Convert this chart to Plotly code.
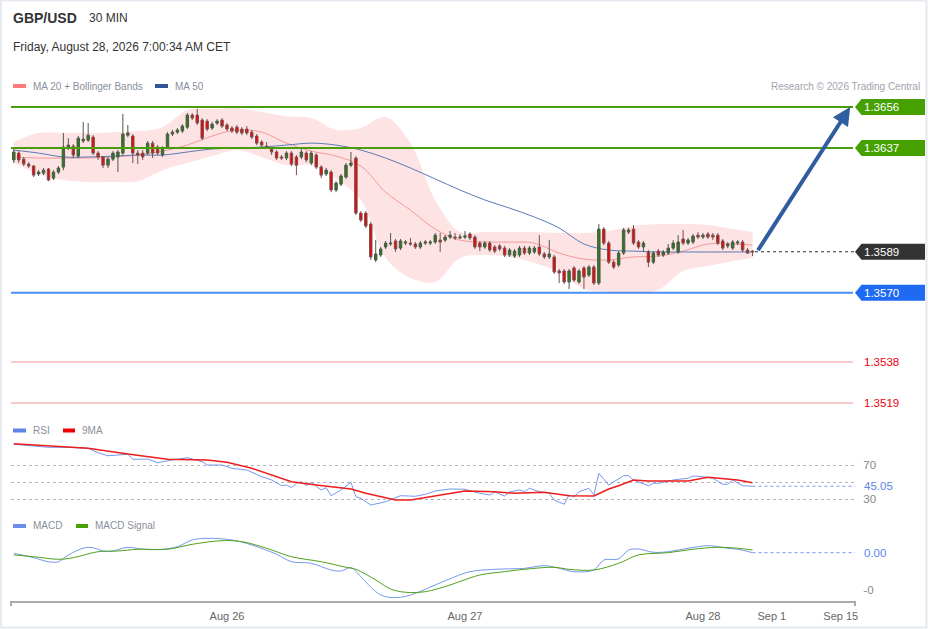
import plotly.graph_objects as go

# GBP/USD 30 min candles
open_ = [
    1.36315, 1.36347, 1.36319, 1.36296, 1.36287, 1.36250, 1.36254, 1.36273, 1.36231, 1.36259,
    1.36282, 1.36375, 1.36379, 1.36333, 1.36403, 1.36407, 1.36421, 1.36347, 1.36329, 1.36291,
    1.36319, 1.36329, 1.36347, 1.36430, 1.36426, 1.36347, 1.36347, 1.36347, 1.36393, 1.36375,
    1.36338, 1.36375, 1.36435, 1.36444, 1.36449, 1.36467, 1.36523, 1.36523, 1.36500, 1.36495,
    1.36463, 1.36486, 1.36500, 1.36477, 1.36463, 1.36467, 1.36458, 1.36458, 1.36444, 1.36426,
    1.36398, 1.36379, 1.36366, 1.36352, 1.36329, 1.36324, 1.36347, 1.36329, 1.36329, 1.36347,
    1.36301, 1.36338, 1.36282, 1.36250, 1.36259, 1.36176, 1.36203, 1.36236, 1.36291, 1.36324,
    1.36069, 1.36069, 1.36018, 1.35852, 1.35875, 1.35912, 1.35926, 1.35940, 1.35907, 1.35930,
    1.35930, 1.35926, 1.35912, 1.35930, 1.35930, 1.35935, 1.35944, 1.35944, 1.35958, 1.35958,
    1.35954, 1.35958, 1.35972, 1.35958, 1.35930, 1.35912, 1.35930, 1.35912, 1.35917, 1.35907,
    1.35875, 1.35870, 1.35875, 1.35907, 1.35884, 1.35889, 1.35912, 1.35880, 1.35866, 1.35866,
    1.35801, 1.35801, 1.35750, 1.35815, 1.35750, 1.35815, 1.35782, 1.35819, 1.35745, 1.35995,
    1.35930, 1.35842, 1.35829, 1.35884, 1.35981, 1.35995, 1.35935, 1.35912, 1.35889, 1.35842,
    1.35893, 1.35875, 1.35884, 1.35907, 1.35889, 1.35949, 1.35930, 1.35935, 1.35967, 1.35958,
    1.35972, 1.35967, 1.35967, 1.35940, 1.35917, 1.35907, 1.35930, 1.35935, 1.35898, 1.35893,
]
high = [
    1.36366, 1.36356, 1.36329, 1.36305, 1.36291, 1.36268, 1.36278, 1.36278, 1.36268, 1.36287,
    1.36440, 1.36416, 1.36389, 1.36426, 1.36491, 1.36486, 1.36430, 1.36356, 1.36333, 1.36329,
    1.36356, 1.36361, 1.36528, 1.36477, 1.36435, 1.36361, 1.36361, 1.36403, 1.36403, 1.36384,
    1.36379, 1.36444, 1.36454, 1.36463, 1.36481, 1.36532, 1.36532, 1.36551, 1.36509, 1.36504,
    1.36491, 1.36504, 1.36509, 1.36486, 1.36472, 1.36477, 1.36467, 1.36472, 1.36454, 1.36435,
    1.36407, 1.36398, 1.36375, 1.36361, 1.36338, 1.36356, 1.36356, 1.36338, 1.36370, 1.36356,
    1.36356, 1.36347, 1.36291, 1.36278, 1.36268, 1.36217, 1.36250, 1.36301, 1.36352, 1.36333,
    1.36078, 1.36078, 1.36028, 1.35944, 1.35912, 1.35940, 1.35977, 1.35949, 1.35949, 1.35944,
    1.35954, 1.35935, 1.35940, 1.35944, 1.35944, 1.35977, 1.35977, 1.35967, 1.35986, 1.35977,
    1.35972, 1.35986, 1.35981, 1.35967, 1.35940, 1.35940, 1.35940, 1.35921, 1.35926, 1.35917,
    1.35907, 1.35903, 1.35917, 1.35917, 1.35917, 1.35917, 1.35967, 1.35889, 1.35944, 1.35875,
    1.35810, 1.35810, 1.35810, 1.35824, 1.35810, 1.35824, 1.35829, 1.35829, 1.36018, 1.36004,
    1.35940, 1.35852, 1.35893, 1.36000, 1.36000, 1.36014, 1.35944, 1.35940, 1.35898, 1.35893,
    1.35903, 1.35898, 1.35926, 1.35944, 1.35967, 1.35991, 1.35954, 1.35972, 1.35981, 1.35977,
    1.35981, 1.35977, 1.35977, 1.35949, 1.35935, 1.35944, 1.35944, 1.35944, 1.35907, 1.35898,
]
low = [
    1.36301, 1.36301, 1.36287, 1.36278, 1.36236, 1.36241, 1.36245, 1.36217, 1.36222, 1.36250,
    1.36268, 1.36361, 1.36324, 1.36324, 1.36393, 1.36398, 1.36338, 1.36315, 1.36278, 1.36278,
    1.36310, 1.36259, 1.36338, 1.36421, 1.36301, 1.36296, 1.36315, 1.36338, 1.36324, 1.36338,
    1.36329, 1.36366, 1.36426, 1.36435, 1.36440, 1.36458, 1.36500, 1.36477, 1.36407, 1.36449,
    1.36454, 1.36477, 1.36463, 1.36449, 1.36440, 1.36435, 1.36430, 1.36430, 1.36412, 1.36384,
    1.36375, 1.36366, 1.36338, 1.36315, 1.36315, 1.36315, 1.36287, 1.36245, 1.36319, 1.36305,
    1.36291, 1.36273, 1.36231, 1.36241, 1.36166, 1.36166, 1.36194, 1.36227, 1.36282, 1.36060,
    1.36028, 1.36000, 1.35852, 1.35842, 1.35866, 1.35903, 1.35917, 1.35889, 1.35898, 1.35921,
    1.35917, 1.35903, 1.35903, 1.35921, 1.35921, 1.35926, 1.35889, 1.35935, 1.35949, 1.35944,
    1.35949, 1.35949, 1.35944, 1.35903, 1.35893, 1.35903, 1.35889, 1.35884, 1.35893, 1.35866,
    1.35866, 1.35861, 1.35866, 1.35875, 1.35875, 1.35880, 1.35870, 1.35856, 1.35856, 1.35787,
    1.35745, 1.35741, 1.35717, 1.35750, 1.35741, 1.35717, 1.35773, 1.35736, 1.35736, 1.35921,
    1.35833, 1.35810, 1.35819, 1.35875, 1.35972, 1.35921, 1.35903, 1.35889, 1.35819, 1.35833,
    1.35866, 1.35866, 1.35875, 1.35898, 1.35880, 1.35921, 1.35921, 1.35926, 1.35949, 1.35949,
    1.35949, 1.35944, 1.35921, 1.35898, 1.35907, 1.35898, 1.35921, 1.35889, 1.35880, 1.35870,
]
close = [
    1.36352, 1.36315, 1.36296, 1.36287, 1.36245, 1.36259, 1.36268, 1.36222, 1.36259, 1.36278,
    1.36375, 1.36384, 1.36338, 1.36416, 1.36412, 1.36430, 1.36347, 1.36329, 1.36291, 1.36319,
    1.36347, 1.36352, 1.36435, 1.36440, 1.36347, 1.36338, 1.36329, 1.36393, 1.36347, 1.36347,
    1.36370, 1.36435, 1.36444, 1.36454, 1.36472, 1.36523, 1.36509, 1.36486, 1.36416, 1.36458,
    1.36481, 1.36495, 1.36472, 1.36458, 1.36449, 1.36444, 1.36440, 1.36440, 1.36421, 1.36393,
    1.36384, 1.36375, 1.36352, 1.36324, 1.36324, 1.36347, 1.36296, 1.36291, 1.36352, 1.36315,
    1.36347, 1.36282, 1.36245, 1.36268, 1.36176, 1.36208, 1.36241, 1.36291, 1.36301, 1.36069,
    1.36037, 1.36009, 1.35866, 1.35880, 1.35903, 1.35930, 1.35930, 1.35903, 1.35940, 1.35935,
    1.35926, 1.35912, 1.35930, 1.35935, 1.35935, 1.35967, 1.35935, 1.35958, 1.35967, 1.35954,
    1.35958, 1.35963, 1.35954, 1.35912, 1.35912, 1.35930, 1.35898, 1.35893, 1.35903, 1.35875,
    1.35898, 1.35893, 1.35907, 1.35884, 1.35907, 1.35907, 1.35880, 1.35866, 1.35880, 1.35796,
    1.35792, 1.35750, 1.35801, 1.35759, 1.35801, 1.35773, 1.35819, 1.35745, 1.35995, 1.35930,
    1.35842, 1.35819, 1.35884, 1.35991, 1.35991, 1.35930, 1.35912, 1.35930, 1.35842, 1.35884,
    1.35875, 1.35889, 1.35907, 1.35930, 1.35935, 1.35930, 1.35944, 1.35963, 1.35958, 1.35967,
    1.35958, 1.35958, 1.35930, 1.35907, 1.35926, 1.35935, 1.35935, 1.35898, 1.35884, 1.35890,
]
bar_index = list(range(len(close)))

# moving averages / bollinger bands, sampled every 5 bars
band_idx = [0, 5, 10, 15, 20, 25, 30, 35, 40, 45, 50, 55, 60, 65, 70, 75,
            80, 85, 90, 95, 100, 105, 110, 115, 120, 125, 130, 135, 140, 145, 149]
ma20 = [1.36329, 1.36324, 1.36324, 1.36324, 1.36329, 1.36338, 1.36356, 1.36384, 1.36426, 1.36454,
        1.36444, 1.36393, 1.36356, 1.36333, 1.36287, 1.36166, 1.36083, 1.35995, 1.35944, 1.35935,
        1.35935, 1.35930, 1.35884, 1.35856, 1.35852, 1.35866, 1.35870, 1.35893, 1.35926, 1.35926, 1.35921]
bb_upper = [1.36398, 1.36440, 1.36440, 1.36440, 1.36444, 1.36449, 1.36467, 1.36546, 1.36551, 1.36555,
            1.36537, 1.36518, 1.36509, 1.36454, 1.36463, 1.36514, 1.36393, 1.36130, 1.35981, 1.35981,
            1.35981, 1.35981, 1.35977, 1.35977, 1.35986, 1.36009, 1.36018, 1.36018, 1.36014, 1.35995, 1.35981]
bb_lower = [1.36301, 1.36250, 1.36222, 1.36213, 1.36213, 1.36217, 1.36268, 1.36301, 1.36333, 1.36361,
            1.36329, 1.36291, 1.36291, 1.36227, 1.36130, 1.35861, 1.35768, 1.35750, 1.35861, 1.35875,
            1.35866, 1.35838, 1.35796, 1.35717, 1.35704, 1.35699, 1.35713, 1.35801, 1.35824, 1.35847, 1.35861]
ma50 = [1.36361, 1.36347, 1.36329, 1.36329, 1.36333, 1.36338, 1.36338, 1.36352, 1.36366, 1.36370,
        1.36375, 1.36384, 1.36393, 1.36384, 1.36361, 1.36324, 1.36278, 1.36227, 1.36176, 1.36130,
        1.36092, 1.36051, 1.36000, 1.35926, 1.35898, 1.35893, 1.35889, 1.35889, 1.35889, 1.35889, 1.35889]

# RSI and its 9 period average
rsi_idx = [0, 4, 7, 11, 15, 17, 19, 23, 24, 27, 29, 32, 35, 38, 39, 42, 44, 47, 50, 52,
           54, 55, 56, 57, 58, 59, 60, 62, 63, 64, 66, 68, 69, 70, 72, 75, 78, 81, 83, 85,
           88, 91, 94, 96, 97, 99, 100, 102, 103, 104, 106, 108, 109, 111, 112, 113, 114, 116, 117, 118,
           120, 123, 124, 125, 128, 129, 130, 133, 136, 137, 139, 141, 143, 144, 145, 147, 149]
rsi_val = [94.4, 92.7, 90.8, 90.8, 89.6, 84.5, 80.9, 82.6, 76.7, 77.0, 72.7, 75.9, 78.6, 73.9, 70.0, 70.0, 66.1, 64.1, 56.2, 52.4,
           45.6, 46.5, 43.3, 48.5, 50.4, 45.6, 49.6, 40.6, 43.3, 33.9, 40.6, 49.6, 32.7, 30.8, 22.9, 26.8, 33.9, 33.2, 35.5, 39.4,
           41.8, 41.4, 36.7, 34.7, 38.2, 33.5, 38.2, 40.6, 38.6, 42.6, 38.6, 36.7, 28.8, 23.8, 34.7, 32.4, 38.6, 42.6, 34.7, 60.2,
           46.5, 57.4, 57.4, 52.4, 45.6, 48.5, 48.5, 52.4, 54.4, 57.1, 56.2, 54.4, 47.3, 47.3, 52.4, 45.6, 45.05]
rsi_ma_idx = [0, 15, 23, 31, 39, 43, 48, 54, 56, 61, 68, 71, 77, 80, 85, 91, 97, 101, 107, 112,
              117, 120, 122, 125, 128, 136, 140, 146, 149]
rsi_ma_val = [95.1, 89.6, 82.9, 76.7, 75.9, 73.2, 66.1, 54.4, 50.4, 46.5, 41.8, 36.7, 28.8, 28.8, 33.5, 39.4, 38.6, 36.7, 37.9, 33.9,
              33.5, 41.8, 45.6, 52.4, 51.2, 51.2, 55.5, 52.4, 49.2]

# MACD and signal
macd_idx = [0, 4, 7, 9, 11, 15, 19, 23, 26, 30, 33, 36, 39, 44, 48, 53, 56, 60, 64, 66,
            68, 70, 73, 75, 78, 81, 85, 89, 92, 97, 103, 107, 110, 113, 117, 119, 122, 124, 126, 129,
            132, 136, 140, 142, 144, 146, 149]
macd_val = [-1.7e-5, -7.5e-5, -12.8e-5, -12.8e-5, -3.9e-5, 6.2e-5, 0.4e-5, 6.2e-5, 3.6e-5, 3.6e-5,
            7.0e-5, 15.8e-5, 18.0e-5, 15.8e-5, 9.2e-5, -3.0e-5, -12.8e-5, -14.9e-5, -23.7e-5, -25.0e-5,
            -20.7e-5, -32.5e-5, -52.2e-5, -58.8e-5, -59.6e-5, -54.4e-5, -43.4e-5, -32.5e-5, -25.9e-5, -22.8e-5,
            -21.5e-5, -18.0e-5, -21.5e-5, -25.9e-5, -23.7e-5, -10.5e-5, -9.2e-5, 2.6e-5, 3.9e-5, -0.4e-5,
            0.4e-5, 4.9e-5, 8.3e-5, 7.0e-5, 4.9e-5, 3.6e-5, -0.9e-5]
signal_idx = [0, 4, 9, 12, 17, 21, 25, 31, 36, 42, 46, 51, 56, 62, 67, 69, 73, 76, 79, 83,
              88, 90, 94, 99, 103, 109, 112, 117, 122, 126, 132, 137, 142, 146, 149]
signal_val = [-3.9e-5, -6.2e-5, -9.6e-5, -7.5e-5, 0.4e-5, 1.3e-5, 3.6e-5, 3.6e-5, 10.1e-5, 14.9e-5,
              13.6e-5, 4.9e-5, -6.2e-5, -12.8e-5, -20.1e-5, -22.8e-5, -36.8e-5, -48.7e-5, -53.0e-5, -52.2e-5,
              -43.4e-5, -38.8e-5, -30.3e-5, -25.9e-5, -22.8e-5, -20.1e-5, -22.8e-5, -23.7e-5, -14.9e-5, -3.9e-5,
              -0.9e-5, 3.6e-5, 6.2e-5, 4.9e-5, 2.6e-5]

last_price = 1.3589
target = 1.3656
resistances = [1.3656, 1.3637]
pivot = 1.3570
supports = [1.3538, 1.3519]
rsi_last = 45.05

tick_pos = [43, 91, 139, 152.9, 166.8]
tick_text = ["Aug 26", "Aug 27", "Aug 28", "Sep 1", "Sep 15"]

X_RANGE = [-0.565, 169.67]
PRICE_RANGE = [1.35134, 1.36616]
FONT = "Liberation Sans, Arial, sans-serif"
GREEN = "#4a9e0c"
BLUE = "#2f5d9f"


def px_x(px):
    return (px - 11) / 844


def px_y(py):
    return (601 - py) / 506


fig = go.Figure()

# bollinger band + moving averages (drawn under the candles)
fig.add_trace(go.Scatter(x=band_idx, y=bb_upper, mode="lines", line=dict(width=0, shape="spline"),
                         hoverinfo="skip", showlegend=False))
fig.add_trace(go.Scatter(x=band_idx, y=bb_lower, mode="lines", line=dict(width=0, shape="spline"),
                         fill="tonexty", fillcolor="#fde3e3", hoverinfo="skip", showlegend=False))
fig.add_trace(go.Scatter(x=band_idx, y=ma20, mode="lines", line=dict(color="#f59a9a", width=1, shape="spline"),
                         showlegend=False))
fig.add_trace(go.Scatter(x=band_idx, y=ma50, mode="lines", line=dict(color="#5a7bb8", width=1, shape="spline"),
                         showlegend=False))

# candles on an overlaying axis so they sit above the band
fig.add_trace(go.Candlestick(
    x=bar_index, open=open_, high=high, low=low, close=close, yaxis="y4",
    increasing=dict(fillcolor="#2c7a1c", line=dict(color="#4b5a48", width=1)),
    decreasing=dict(fillcolor="#f00000", line=dict(color="#7a5050", width=1)),
    whiskerwidth=0, showlegend=False, hoverinfo="skip"))

# RSI pane
fig.add_trace(go.Scatter(x=rsi_idx, y=rsi_val, yaxis="y2", mode="lines",
                         line=dict(color="#7598ee", width=1), showlegend=False))
fig.add_trace(go.Scatter(x=rsi_ma_idx, y=rsi_ma_val, yaxis="y2", mode="lines",
                         line=dict(color="#ee1c1c", width=1.5), showlegend=False))

# MACD pane
fig.add_trace(go.Scatter(x=macd_idx, y=macd_val, yaxis="y3", mode="lines",
                         line=dict(color="#7598ee", width=1, shape="spline"), showlegend=False))
fig.add_trace(go.Scatter(x=signal_idx, y=signal_val, yaxis="y3", mode="lines",
                         line=dict(color="#4fa11a", width=1, shape="spline"), showlegend=False))

shapes = []
annotations = []
half_h = 8 / 21600


def level_label(level, color, boxed=True):
    if boxed:
        shapes.append(dict(
            type="path", xref="paper", yref="y", fillcolor=color, line=dict(width=0),
            path=f"M 1,{level} L {px_x(861.5)},{level + half_h} L {px_x(925)},{level + half_h} "
                 f"L {px_x(925)},{level - half_h} L {px_x(861.5)},{level - half_h} Z"))
    annotations.append(dict(
        x=px_x(862), y=level, xref="paper", yref="y", xanchor="left", yanchor="middle",
        text=f"{level:.4f}", showarrow=False,
        font=dict(size=11.5, color="white" if boxed else "#e8000b", family=FONT)))


for lv in resistances:
    shapes.append(dict(type="line", xref="paper", yref="y", x0=0, x1=px_x(853), y0=lv, y1=lv,
                       line=dict(color=GREEN, width=2)))
    level_label(lv, "#45a000")
shapes.append(dict(type="line", xref="paper", yref="y", x0=0, x1=px_x(853), y0=pivot, y1=pivot,
                   line=dict(color="#4d8ef6", width=2)))
level_label(pivot, "#1f6af2")
for lv in supports:
    shapes.append(dict(type="line", xref="paper", yref="y", x0=0, x1=px_x(853), y0=lv, y1=lv,
                       line=dict(color="#f6b9b9", width=1.5)))
    level_label(lv, None, boxed=False)

shapes.append(dict(type="line", xref="x", yref="y", x0=bar_index[-1] + 0.5, x1=X_RANGE[1],
                   y0=last_price, y1=last_price, line=dict(color="#333333", width=1, dash="dot")))
level_label(last_price, "#333333")

shapes.append(dict(type="line", xref="x", yref="y2", x0=rsi_idx[-1], x1=X_RANGE[1],
                   y0=rsi_last, y1=rsi_last, line=dict(color="#7598ee", width=1, dash="dot")))
shapes.append(dict(type="line", xref="x", yref="y3", x0=macd_idx[-1], x1=X_RANGE[1],
                   y0=macd_val[-1], y1=macd_val[-1], line=dict(color="#7598ee", width=1, dash="dot")))

# projection arrow
annotations.append(dict(x=168.7, y=target, xref="x", yref="y", ax=bar_index[-1] + 0.9, ay=last_price,
                        axref="x", ayref="y", text="", showarrow=True, arrowhead=2, arrowsize=0.9,
                        arrowwidth=4, arrowcolor=BLUE, standoff=0))

annotations.append(dict(x=px_x(862), y=rsi_last, xref="paper", yref="y2", xanchor="left", yanchor="middle",
                        text=f"{rsi_last:.2f}", showarrow=False, bgcolor="white",
                        font=dict(size=11.5, color="#5b84e6", family=FONT)))
annotations.append(dict(x=px_x(862), y=macd_val[-1], xref="paper", yref="y3", xanchor="left", yanchor="middle",
                        text="0.00", showarrow=False, font=dict(size=11.5, color="#5b84e6", family=FONT)))


# header
def header(px, py, text, size, color, bold=False, anchor="left"):
    annotations.append(dict(x=px_x(px), y=px_y(py), xref="paper", yref="paper", xanchor=anchor,
                            yanchor="middle", showarrow=False,
                            text=f"<b>{text}</b>" if bold else text,
                            font=dict(size=size, color=color, family=FONT)))


header(11, 18, "GBP/USD", 14, "#333333", bold=True)
header(87, 18, "30 MIN", 12, "#333333")
header(11, 47, "Friday, August 28, 2026 7:00:34 AM CET", 12, "#333333")
header(31, 86, "MA 20 + Bollinger Bands", 10, "#8a8f9c")
header(173, 86, "MA 50", 10, "#8a8f9c")
header(922, 86, "Research © 2026 Trading Central", 10, "#a0a4ad", anchor="right")
header(31, 430, "RSI", 10, "#8a8f9c")
header(80, 430, "9MA", 10, "#8a8f9c")
header(31, 525, "MACD", 10, "#8a8f9c")
header(93, 525, "MACD Signal", 10, "#8a8f9c")


def swatch(x0, x1, py, color):
    shapes.append(dict(type="rect", xref="paper", yref="paper", x0=px_x(x0), x1=px_x(x1),
                       y0=px_y(py + 2), y1=px_y(py - 2), fillcolor=color, line=dict(width=0)))


swatch(13, 26, 86, "#ff7b7b")
swatch(155, 168, 86, "#2f5597")
swatch(13, 26, 430.5, "#5b84e6")
swatch(63, 75, 430.5, "#ee0000")
swatch(13, 26, 526, "#6b8fe8")
swatch(76, 88, 526, "#46a000")

# axis end ticks and frame
for px in (11, 855):
    shapes.append(dict(type="line", xref="paper", yref="paper", x0=px_x(px), x1=px_x(px),
                       y0=0, y1=px_y(606), line=dict(color="#aaaaaa", width=2)))
shapes.append(dict(type="rect", xref="paper", yref="paper", x0=px_x(1), x1=px_x(926.5),
                   y0=px_y(627.5), y1=px_y(0.5), line=dict(color="#e4eaef", width=2)))

fig.update_layout(
    width=929, height=629,
    margin=dict(l=11, r=74, t=95, b=28, autoexpand=False),
    paper_bgcolor="white", plot_bgcolor="white",
    font=dict(family=FONT, size=11, color="#666666"),
    showlegend=False,
    xaxis=dict(domain=[0, 1], anchor="y3", range=X_RANGE, showgrid=False, zeroline=False,
               automargin=False,
               showline=True, linecolor="#aaaaaa", linewidth=2, tickvals=tick_pos, ticktext=tick_text,
               ticks="outside", ticklen=4, tickcolor="rgba(0,0,0,0)",
               tickfont=dict(size=11, color="#666666"), rangeslider=dict(visible=False)),
    yaxis=dict(domain=[px_y(415), 1], range=PRICE_RANGE, anchor="x", showgrid=False,
               automargin=False, zeroline=False, showticklabels=False),
    yaxis4=dict(overlaying="y", range=PRICE_RANGE, anchor="x", visible=False,
                automargin=False, showgrid=False, zeroline=False),
    yaxis2=dict(domain=[px_y(515), px_y(425)], range=[11.18, 117.06], anchor="x", side="right",
                automargin=False,
                tickvals=[30, 50, 70], ticktext=["30", "", "70"], showgrid=True, gridcolor="#b5b5b5",
                griddash="dot", gridwidth=1, zeroline=False, ticks="outside", ticklen=5,
                tickcolor="rgba(0,0,0,0)", tickfont=dict(size=11.5, color="#888888")),
    yaxis3=dict(domain=[0, px_y(520)], range=[-0.000645, 0.000421], anchor="x", side="right",
                automargin=False,
                tickvals=[-0.0005], ticktext=["-0"], showgrid=False, zeroline=False,
                ticks="outside", ticklen=5, tickcolor="rgba(0,0,0,0)",
                tickfont=dict(size=11.5, color="#888888")),
    shapes=shapes,
    annotations=annotations,
)

# keep the page exactly the size of the figure (no body margin)
fig.write_html("out.html", config={"displayModeBar": False},
               post_script="document.documentElement.style.margin='0';"
                           "document.body.style.margin='0';"
                           "document.documentElement.style.overflow='hidden';")
